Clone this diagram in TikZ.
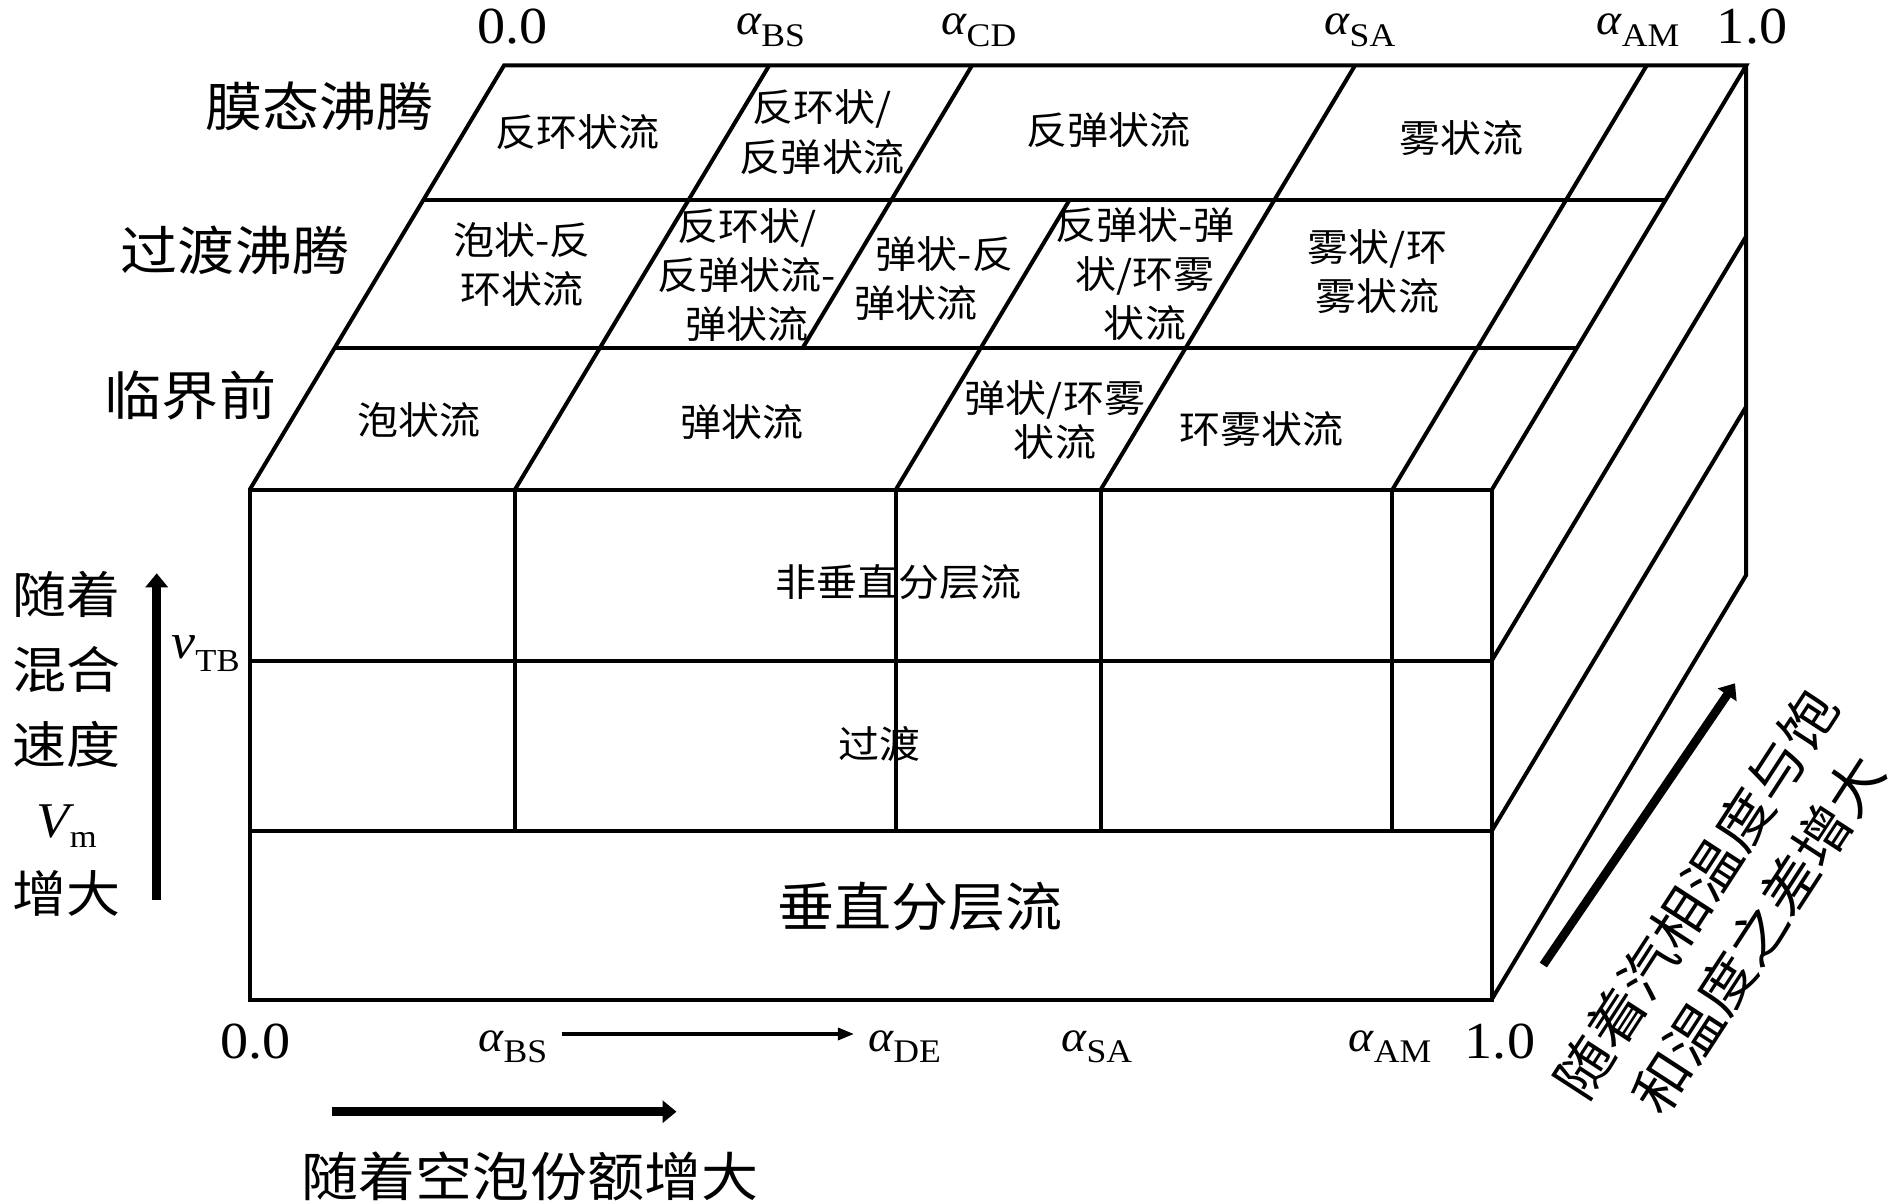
\documentclass[tikz,border=0pt]{standalone}
\usepackage{fontspec}
\setmainfont[FakeStretch=1.08]{Liberation Serif}
\newfontfamily\cjk[FakeStretch=1.08]{Noto Sans CJK SC}
\usetikzlibrary{arrows.meta}

\newcommand{\fsz}[2]{\fontsize{#1}{#2}\selectfont}
% alpha with an upright subscript
\newcommand{\al}[1]{{\itshape α}\raisebox{-5.8pt}{\fsz{16.5}{16.5}#1}}

\begin{document}
\begin{tikzpicture}[x=0.5pt, y=-0.5pt,
    edge/.style={line width=2pt},
    cell/.style={font={\cjk\fsz{19}{24.5}}, align=center, inner sep=0pt},
    phase/.style={font={\cjk\fsz{26.4}{32}}, inner sep=0pt},
    tick/.style={font=\fsz{22}{22}, anchor=base, inner sep=0pt},
    num/.style={font=\fsz{26}{26}, anchor=base, inner sep=0pt},
    bigarrow/.style={line width=4.3pt, -{Triangle[length=7pt,width=11pt]}},
    thinarrow/.style={line width=1.6pt, -{Triangle[length=8pt,width=6pt]},
                      shorten <=7pt, shorten >=7pt},
  ]
  \useasboundingbox (0,0) rectangle (1890,1202);
  \fill[white] (0,0) rectangle (1890,1202);

  % front face
  \draw[edge] (249.5,490) rectangle (1491.7,999.5);
  \draw[edge] (249.5,660.7) -- (1491.7,660.7);
  \draw[edge] (249.5,831) -- (1491.7,831);
  \foreach \x in {514.7, 895.6, 1100.5, 1392.2}
    \draw[edge] (\x,490) -- (\x,831);

  % top face
  \draw[edge] (249.5,490) -- ++(254.5,-424.5) -- (1746.2,65.5) -- (1491.7,490);
  \draw[edge] (423.4,200) -- (1665.6,200);
  \draw[edge] (334.8,347.7) -- (1577,347.7);
  \foreach \x in {514.7, 1100.5, 1392.2}
    \draw[edge] (\x,490) -- ++(254.5,-424.5);
  \draw[edge] (802.8,347.7) -- (972,65.5);
  \draw[edge] (895.6,490) -- (1069.5,200);

  % right face
  \draw[edge] (1746.2,65.5) -- (1746.2,575) -- (1491.7,999.5);
  \draw[edge] (1491.7,660.7) -- ++(254.5,-424.5);
  \draw[edge] (1491.7,831) -- ++(254.5,-424.5);

  % regimes on the top face
  \node[cell] (fa1) at (577.5,132.5) {反环状流};
  \node[cell, font={\cjk\fsz{19}{25}}] (fa2) at (822,131.7) {反环状/\\反弹状流};
  \node[cell] (fa3) at (1108.5,130.2) {反弹状流};
  \node[cell] (fa4) at (1461.5,138.6) {雾状流};

  \node[cell] (tb1) at (522,265) {泡状-反\\环状流};
  \node[cell] (tb2) at (747,275) {反环状/\\反弹状流-\\弹状流};
  \node[cell, align=left] (tb3) at (934,278.4) {\hspace*{0.55em}弹状-反\\弹状流};
  \node[cell] (tb4) at (1145,273.9) {反弹状-弹\\状/环雾\\状流};
  \node[cell] (tb5) at (1377.5,271.2) {雾状/环\\雾状流};

  \node[cell] (cf1) at (419,420) {泡状流};
  \node[cell] (cf2) at (741.7,421.7) {弹状流};
  \node[cell, font={\cjk\fsz{19}{21.7}}] (cf3) at (1055,420) {弹状/环雾\\状流};
  \node[cell] (cf4) at (1261.5,429) {环雾状流};

  % regimes on the front face
  \node[cell] (ns) at (898.7,582.2) {非垂直分层流};
  \node[cell] (tr) at (879.5,743.7) {过渡};
  \node[phase] (vs) at (920,906.5) {垂直分层流};

  % boiling stages
  \node[phase] (lfb) at (319.5,106.7) {膜态沸腾};
  \node[phase] (ltb) at (235,250.7) {过渡沸腾};
  \node[phase] (lcf) at (190.5,395.4) {临界前};

  % void fraction marks, back edge
  \node[num]  (t0)  at (512.5,43.3) {0.0};
  \node[tick] (tbs) at (770.7,35) {\al{BS}};
  \node[tick] (tcd) at (979,35) {\al{CD}};
  \node[tick] (tsa) at (1360,35) {\al{SA}};
  \node[tick] (tam) at (1638,35) {\al{AM}};
  \node[num]  (t1)  at (1752,43.3) {1.0};

  % void fraction marks, front edge
  \node[num]  (b0)  at (255.5,1058.3) {0.0};
  \node[tick] (bsb) at (512.9,1051) {\al{BS}};
  \node[tick] (deb) at (904.6,1051) {\al{DE}};
  \node[tick] (sab) at (1096.8,1051) {\al{SA}};
  \node[tick] (amb) at (1390,1051) {\al{AM}};
  \node[num]  (b1)  at (1500,1058.3) {1.0};
  \draw[thinarrow] ([yshift=8.5pt]bsb.base east) -- ([yshift=8.5pt]deb.base west);

  % mixture velocity
  \node[anchor=base east, inner sep=0pt, font=\fsz{25}{25}] (vtb) at (240,658.3)
    {{\itshape v}\raisebox{-6.5pt}{\fsz{16}{16}TB}};
  \node[font={\cjk\fsz{25}{37.3}}, align=center, inner sep=0pt] (vm) at (66.7,744)
    {随着\\混合\\速度\\{\rmfamily\itshape V}\raisebox{-5pt}{\rmfamily\fsz{16}{16}m}\\增大};
  \coordinate (vt) at (156.7,900);
  \coordinate (vh) at (156.7,573.3);
  \draw[bigarrow] (vt) -- (vh);

  % void fraction direction
  \coordinate (ht) at (332,1111.7);
  \coordinate (hh) at (676.5,1111.7);
  \draw[bigarrow] (ht) -- (hh);
  \node[phase] (bt) at (530,1176.7) {随着空泡份额增大};

  % superheat direction
  \coordinate (dt) at (1543.3,965);
  \coordinate (dh) at (1735,683.3);
  \draw[bigarrow] (dt) -- (dh);
  \node[rotate=57, font={\cjk\fsz{27.3}{37}}, align=center, inner sep=0pt] (sh)
    at (1727,914) {随着汽相温度与饱\\和温度之差增大};
\end{tikzpicture}
\end{document}
